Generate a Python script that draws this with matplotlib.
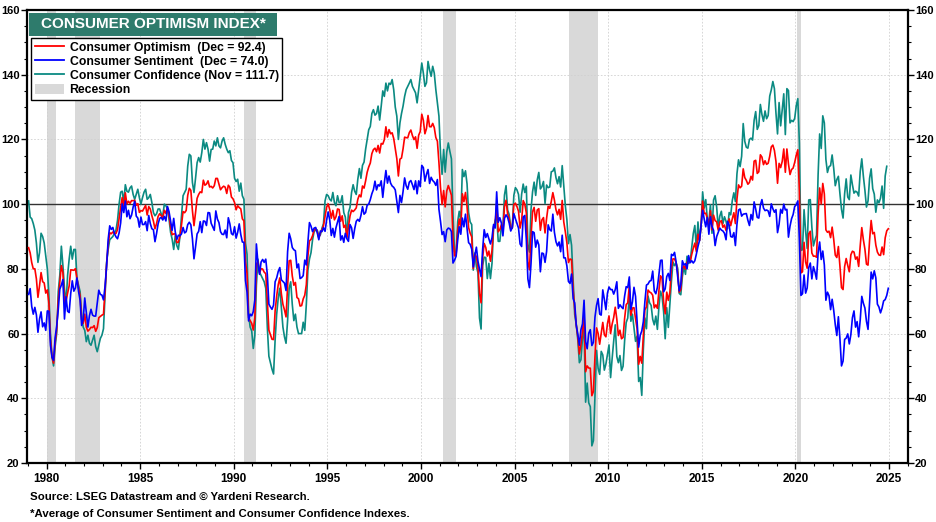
import numpy as np
import matplotlib
matplotlib.use("Agg")
import matplotlib.pyplot as plt
from matplotlib.patches import Rectangle, Patch
from matplotlib.lines import Line2D

plt.rcParams['font.family'] = ['Liberation Sans', 'DejaVu Sans']

# ---- Data (monthly, Jan 1979 onward) ----
start_year = 1979

# University of Michigan Consumer Sentiment, Jan 1979 - Dec 2024
sentiment = [
    72.1, 73.9, 68.4, 66.0, 68.1, 65.8, 60.4, 64.5, 66.7, 62.1, 63.3, 61.0,   # 1979
    67.0, 66.9, 56.5, 52.7, 51.7, 58.7, 62.3, 67.3, 73.7, 75.0, 76.7, 64.5,   # 1980
    71.4, 66.9, 66.5, 72.4, 76.3, 73.1, 74.1, 77.2, 73.1, 70.3, 62.5, 64.3,   # 1981
    71.0, 66.5, 62.0, 65.5, 67.5, 65.7, 65.4, 65.4, 69.3, 73.4, 72.1, 71.9,   # 1982
    70.4, 74.6, 80.8, 89.1, 93.3, 92.2, 92.8, 90.9, 89.9, 89.3, 91.1, 94.2,   # 1983
    100.1, 97.4, 101.0, 96.1, 98.1, 95.5, 96.6, 99.1, 100.9, 96.3, 95.7, 92.9,  # 1984
    96.0, 93.7, 93.7, 94.6, 91.8, 96.5, 94.0, 92.4, 92.1, 88.4, 90.9, 93.9,   # 1985
    95.6, 95.9, 95.1, 96.2, 94.8, 99.3, 97.7, 94.9, 91.9, 95.6, 91.4, 89.1,   # 1986
    90.4, 90.2, 90.8, 92.8, 91.1, 91.5, 93.7, 94.4, 93.6, 89.3, 83.1, 86.8,   # 1987
    90.8, 91.6, 94.6, 91.2, 94.8, 94.7, 93.4, 97.4, 97.3, 94.1, 93.0, 91.9,   # 1988
    97.9, 95.4, 94.3, 91.5, 90.7, 90.6, 92.0, 89.6, 95.8, 93.9, 90.9, 90.5,   # 1989
    93.0, 89.5, 91.3, 93.9, 90.6, 88.3, 88.2, 76.4, 72.8, 63.9, 66.0, 65.5,   # 1990
    66.8, 70.4, 87.7, 81.8, 78.3, 82.1, 82.9, 82.0, 83.0, 78.3, 69.1, 68.2,   # 1991
    67.5, 68.8, 76.0, 77.2, 79.2, 80.4, 76.6, 76.1, 75.6, 73.3, 85.3, 91.0,   # 1992
    89.3, 86.6, 85.9, 85.6, 80.3, 81.5, 77.0, 77.3, 77.9, 82.7, 81.2, 88.2,   # 1993
    94.3, 93.2, 91.5, 92.6, 92.8, 91.2, 89.0, 91.7, 91.5, 92.7, 91.6, 95.1,   # 1994
    97.6, 95.1, 90.3, 92.5, 89.8, 92.7, 94.4, 96.2, 88.9, 90.2, 88.2, 91.0,   # 1995
    89.3, 88.5, 93.7, 92.7, 89.4, 92.4, 94.7, 95.3, 94.7, 96.5, 99.2, 96.9,   # 1996
    97.4, 99.7, 100.0, 101.4, 103.2, 104.5, 107.1, 104.4, 106.0, 105.6, 107.2, 102.1,  # 1997
    106.6, 110.4, 106.5, 108.7, 106.5, 105.6, 105.2, 104.4, 100.9, 97.4, 102.7, 100.5,  # 1998
    103.9, 108.1, 105.7, 104.6, 106.8, 107.3, 106.0, 104.5, 107.2, 103.2, 107.2, 105.4,  # 1999
    112.0, 111.3, 107.1, 109.2, 110.7, 106.4, 108.3, 107.3, 106.8, 105.8, 107.6, 98.4,  # 2000
    94.7, 90.6, 91.5, 88.4, 92.0, 92.6, 92.4, 91.5, 81.8, 82.7, 83.9, 88.8,   # 2001
    93.0, 90.7, 95.7, 93.0, 96.9, 92.4, 88.1, 87.6, 86.1, 80.6, 84.2, 86.7,   # 2002
    82.4, 79.9, 77.6, 86.0, 92.1, 89.7, 90.9, 89.3, 87.7, 89.6, 93.7, 92.6,   # 2003
    103.8, 94.4, 95.8, 94.2, 90.2, 95.6, 96.7, 95.9, 94.2, 91.7, 92.8, 97.1,  # 2004
    95.5, 94.1, 92.6, 87.7, 86.9, 96.0, 96.5, 89.1, 76.9, 74.2, 81.6, 91.5,   # 2005
    91.2, 86.7, 88.9, 87.4, 79.1, 84.9, 84.7, 82.0, 85.4, 93.6, 92.1, 91.7,   # 2006
    96.9, 91.3, 88.4, 87.1, 88.3, 85.3, 90.4, 83.4, 83.4, 80.9, 76.1, 75.5,   # 2007
    78.4, 70.8, 69.5, 62.6, 59.8, 56.4, 61.2, 63.0, 70.3, 57.6, 55.3, 60.1,   # 2008
    61.2, 56.3, 57.3, 65.1, 68.7, 70.8, 66.0, 65.7, 73.5, 70.6, 67.4, 72.5,   # 2009
    74.4, 73.6, 73.6, 72.2, 73.6, 76.0, 67.8, 68.9, 68.2, 67.7, 71.6, 74.5,   # 2010
    74.2, 77.5, 67.5, 69.8, 74.3, 71.5, 63.7, 55.8, 59.5, 60.8, 63.7, 69.9,   # 2011
    75.0, 75.3, 76.2, 76.4, 79.3, 73.2, 72.3, 74.3, 78.3, 82.6, 82.7, 72.9,   # 2012
    73.8, 77.6, 78.6, 76.4, 84.5, 84.1, 85.1, 82.1, 77.5, 73.2, 75.1, 82.5,   # 2013
    81.2, 81.6, 80.0, 84.1, 81.9, 82.5, 81.8, 82.5, 84.6, 86.9, 88.8, 93.6,   # 2014
    98.1, 95.4, 93.0, 95.9, 90.7, 96.1, 93.1, 91.9, 87.2, 90.0, 91.3, 92.6,   # 2015
    92.0, 91.7, 91.0, 89.0, 94.7, 93.5, 90.0, 89.8, 91.2, 87.2, 93.8, 98.2,   # 2016
    98.5, 96.3, 96.9, 97.0, 97.1, 95.0, 93.4, 96.8, 95.1, 100.7, 98.5, 95.9,  # 2017
    95.7, 99.7, 101.4, 98.8, 98.0, 98.2, 97.9, 96.2, 100.1, 98.6, 97.5, 98.3,  # 2018
    91.2, 93.8, 98.4, 97.2, 100.0, 98.2, 98.4, 89.8, 93.2, 95.5, 96.8, 99.3,  # 2019
    99.8, 101.0, 89.1, 71.8, 72.3, 78.1, 72.5, 74.1, 80.4, 81.8, 76.9, 80.7,  # 2020
    79.0, 76.8, 84.9, 88.3, 82.9, 85.5, 81.2, 70.3, 72.8, 71.7, 67.4, 70.6,   # 2021
    67.2, 62.8, 59.4, 65.2, 58.4, 50.0, 51.5, 58.2, 58.6, 59.9, 56.8, 59.7,   # 2022
    64.9, 67.0, 62.0, 63.7, 59.0, 64.2, 71.5, 69.4, 67.9, 63.8, 61.3, 69.7,   # 2023
    79.0, 76.9, 79.4, 77.2, 69.1, 68.2, 66.4, 67.9, 70.1, 70.5, 71.8, 74.0,   # 2024
]

# Conference Board Consumer Confidence, Jan 1979 - Nov 2024
confidence = [
    101, 96, 95.5, 94, 92, 88, 82, 85, 91, 90, 88, 84,                        # 1979
    80, 72, 60, 53, 50, 56, 60, 73, 78, 87, 81, 74,                           # 1980
    69, 78, 83, 87, 83, 86, 86, 77, 75, 73, 66, 62,                           # 1981
    61, 57.5, 59.5, 57, 56.4, 58, 59.5, 56, 54.4, 56.4, 58.5, 59.5,           # 1982
    61.5, 72, 82, 86, 89, 89.5, 90, 91, 92, 95, 100, 103.7,                   # 1983
    104, 100.6, 106, 104, 103.7, 105, 105.6, 103, 101.5, 103, 104.6, 102,     # 1984
    100, 102, 103.7, 104.6, 101.5, 102, 103, 100.5, 97.4, 96.4, 97, 98.5,     # 1985
    98.5, 97, 96.4, 100, 99.5, 98.5, 95.4, 91.3, 89.2, 86, 90.2, 87.2,        # 1986
    86, 90, 96.4, 102.6, 103.6, 104.6, 111.8, 115.4, 114.9, 106.7, 103.6, 108,  # 1987
    112.8, 114.4, 113, 115.9, 120, 117, 119, 117, 113.3, 116.9, 117, 119.5,   # 1988
    118, 120.5, 118, 117.4, 119.5, 120.5, 118.5, 117, 115.9, 116.5, 113.5, 112.8,  # 1989
    108, 107, 107.7, 104, 106.5, 102.6, 101.5, 88, 84.5, 66, 62, 60.8,        # 1990
    55.4, 59.5, 75, 83, 79, 78, 77, 76, 74, 62, 53, 51,                       # 1991
    49, 47.5, 58, 66, 71, 74, 68, 62, 59, 57, 64, 74,                         # 1992
    76, 69, 64, 66, 62, 60, 60, 60, 63.5, 61, 69, 79.5,                       # 1993
    83, 85, 89, 91.5, 92, 92, 90, 90.5, 92.5, 94, 101, 103,                   # 1994
    102.6, 101.5, 101, 103.6, 100.5, 99.5, 102.6, 100.5, 100.5, 102.6, 97.4, 96,  # 1995
    90, 97.4, 99, 103.6, 106, 104, 103, 107.7, 111, 108, 112, 113,            # 1996
    117, 120, 123, 124, 128, 129.2, 127.5, 128, 130.3, 126, 130.3, 135,       # 1997
    133.3, 137.4, 135, 137.4, 137, 138.5, 135.4, 130, 127.2, 120, 125.1, 128,  # 1998
    130.3, 133.3, 135.4, 136.4, 137.4, 138.5, 136.4, 135.4, 134.4, 131.3, 135.4, 139.5,  # 1999
    143.6, 140.5, 136.4, 137.5, 144.1, 141.5, 139.5, 142.6, 140.5, 135.4, 131.3, 127.2,  # 2000
    115.7, 109.2, 116.9, 109.9, 116.1, 118.9, 116.3, 114.0, 97.0, 85.3, 84.9, 94.6,  # 2001
    97.8, 95.0, 110.7, 108.5, 110.3, 106.3, 97.4, 94.5, 93.7, 79.6, 84.9, 80.7,  # 2002
    78.8, 64.8, 61.4, 81.0, 83.6, 83.5, 77.0, 81.7, 77.0, 81.7, 92.5, 94.8,   # 2003
    96.4, 88.5, 88.5, 93.0, 93.1, 102.8, 105.7, 98.2, 96.8, 92.9, 92.6, 102.7,  # 2004
    105.1, 104.4, 103.0, 97.5, 103.1, 106.2, 103.6, 105.5, 87.5, 85.2, 98.3, 103.8,  # 2005
    106.8, 102.7, 107.5, 109.8, 104.7, 105.4, 107.0, 100.2, 105.9, 105.1, 105.3, 110.0,  # 2006
    110.2, 111.2, 108.2, 106.3, 108.5, 105.3, 111.9, 105.6, 99.5, 95.2, 87.8, 90.6,  # 2007
    87.3, 76.4, 65.9, 62.8, 58.1, 51.0, 51.9, 58.5, 61.4, 38.8, 44.7, 38.6,   # 2008
    37.4, 25.3, 26.9, 40.8, 54.8, 49.3, 47.4, 54.5, 53.4, 48.7, 50.6, 53.6,   # 2009
    56.5, 46.4, 52.3, 57.7, 62.7, 52.9, 51.0, 53.2, 48.6, 49.9, 57.8, 63.4,   # 2010
    64.8, 72.0, 63.8, 66.0, 61.7, 57.6, 59.2, 45.2, 46.4, 40.9, 55.2, 64.8,   # 2011
    61.5, 71.6, 69.5, 68.7, 64.4, 62.7, 65.4, 61.3, 68.4, 73.1, 71.5, 66.7,   # 2012
    58.4, 68.0, 61.9, 69.0, 76.2, 82.1, 81.0, 81.8, 80.2, 72.4, 72.0, 77.5,   # 2013
    80.7, 78.3, 83.9, 81.7, 82.2, 86.4, 90.9, 93.4, 86.0, 94.5, 88.7, 93.1,   # 2014
    103.8, 98.8, 101.4, 95.4, 94.6, 99.8, 91.0, 101.3, 102.6, 99.1, 92.6, 96.3,  # 2015
    97.8, 94.0, 96.1, 94.7, 92.4, 97.4, 96.7, 101.1, 103.5, 100.8, 109.4, 113.7,  # 2016
    111.6, 114.8, 124.9, 119.4, 117.6, 117.3, 120.0, 120.4, 119.8, 125.9, 128.6, 123.1,  # 2017
    124.3, 130.8, 127.7, 125.6, 128.8, 126.4, 127.4, 133.4, 135.3, 137.9, 135.7, 128.1,  # 2018
    121.7, 131.4, 124.2, 129.2, 134.1, 121.5, 135.7, 135.1, 125.1, 125.9, 125.5, 126.5,  # 2019
    130.4, 132.6, 118.8, 85.7, 85.9, 98.3, 91.7, 86.3, 101.3, 101.4, 92.9, 87.1,  # 2020
    88.9, 90.4, 109.0, 121.7, 117.2, 127.3, 125.1, 113.8, 109.8, 111.6, 111.9, 115.2,  # 2021
    111.1, 105.7, 107.6, 108.6, 103.2, 98.4, 95.7, 103.2, 107.8, 102.2, 101.4, 109.0,  # 2022
    106.0, 103.4, 104.0, 103.7, 102.5, 110.1, 114.0, 108.7, 104.3, 99.1, 101.0, 108.0,  # 2023
    110.9, 104.8, 103.1, 97.5, 101.3, 100.4, 101.9, 105.6, 98.7, 108.7, 111.7,  # 2024 (to Nov)
]

# Consumer Optimism = average of the two indexes; latest (Dec 2024) reading
optimism_latest = 92.4

recessions = [(1980.0, 1980.5), (1981.5, 1982.83), (1990.55, 1991.17),
              (2001.2, 2001.85), (2007.92, 2009.45), (2020.1, 2020.28)]

legend_labels = ["Consumer Optimism  (Dec = 92.4)",
                 "Consumer Sentiment  (Dec = 74.0)",
                 "Consumer Confidence (Nov = 111.7)",
                 "Recession"]
title_text = "CONSUMER OPTIMISM INDEX*"
year_ticks = list(range(1980, 2030, 5))
y_ticks = list(range(20, 161, 20))

# ---- Derived ----
sent = np.array(sentiment, dtype=float)
conf = np.array(confidence, dtype=float)
t_sent = start_year + (np.arange(len(sent)) + 0.5) / 12.0
t_conf = t_sent[:len(conf)]
opt = np.append((sent[:len(conf)] + conf) / 2.0, optimism_latest)
t_opt = t_sent[:len(opt)]

# ---- Figure ----
W, H = 936, 522
fig = plt.figure(figsize=(W / 100, H / 100), dpi=100)
L, R, T, B = 26.5, 908, 10, 463
ax = fig.add_axes([L / W, 1 - B / H, (R - L) / W, (B - T) / H])

RED, BLUE, TEAL = '#ff0000', '#0000ff', '#0b8a82'
REC = '#d9d9d9'

for a, b in recessions:
    ax.axvspan(a, b, color=REC, lw=0, zorder=0)

ax.set_axisbelow(True)
ax.grid(True, which='major', color='#d0d0d0', ls=(0, (2, 2)), lw=0.6)
ax.axhline(100, color='#333333', lw=1.0, zorder=1.8)

ax.plot(t_conf, conf, color=TEAL, lw=1.2, zorder=2)
ax.plot(t_opt, opt, color=RED, lw=1.2, zorder=3)
ax.plot(t_sent, sent, color=BLUE, lw=1.2, zorder=4)

ax.set_xlim(1978.93, 2026.01)
ax.set_ylim(20, 160)
ax.set_xticks(year_ticks)
ax.set_xticklabels([str(y) for y in year_ticks])
ax.set_xticks(np.arange(1979, 2027), minor=True)
ax.set_yticks(y_ticks)
ax.set_yticks(np.arange(20, 161, 5), minor=True)

ax.tick_params(axis='y', which='major', direction='out', length=4, width=1.0,
               labelsize=8, pad=1)
ax.tick_params(axis='y', which='minor', direction='out', length=2.5, width=0.8)
ax.tick_params(axis='x', which='major', direction='out', length=4, width=1.0,
               labelsize=8.5, pad=3)
ax.tick_params(axis='x', which='minor', direction='out', length=2.5, width=0.8)
ax.tick_params(axis='y', which='both', left=True, right=True, labelleft=True, labelright=True)
ax.tick_params(axis='x', which='both', top=False)
for lab in ax.get_xticklabels() + ax.get_yticklabels():
    lab.set_fontweight('bold')
for sp in ax.spines.values():
    sp.set_linewidth(1.6)
    sp.set_color('black')

# Title box
fig.patches.append(Rectangle((29 / W, 1 - 36 / H), 248 / W, 23 / H,
                             transform=fig.transFigure, facecolor='#2e7b6c',
                             edgecolor='none', zorder=5))
fig.text(153 / W, 1 - 24.5 / H, title_text, color='white', fontsize=11,
         fontweight='bold', ha='center', va='center', zorder=6)

# Legend
handles = [Line2D([], [], color=RED, lw=1.3),
           Line2D([], [], color=BLUE, lw=1.3),
           Line2D([], [], color=TEAL, lw=1.3),
           Patch(facecolor=REC, edgecolor='none')]
leg = ax.legend(handles, legend_labels, loc='upper left',
                bbox_to_anchor=(31 / W, 1 - 38 / H), bbox_transform=fig.transFigure,
                frameon=True, fancybox=False, framealpha=1, edgecolor='black',
                prop={'size': 8.8, 'weight': 'bold'}, handlelength=2.4,
                handleheight=0.9, handletextpad=0.45, labelspacing=0.14,
                borderpad=0.3, borderaxespad=0)
leg.get_frame().set_linewidth(1.0)
leg.set_zorder(6)

# Footer
fig.text(30 / W, 1 - 497 / H, "Source: LSEG Datastream and \u00a9 Yardeni Research.",
         fontsize=8.2, fontweight='bold', ha='left', va='center')
fig.text(30 / W, 1 - 514 / H, "*Average of Consumer Sentiment and Consumer Confidence Indexes.",
         fontsize=8.2, fontweight='bold', ha='left', va='center')

fig.savefig("out.png", dpi=100)
